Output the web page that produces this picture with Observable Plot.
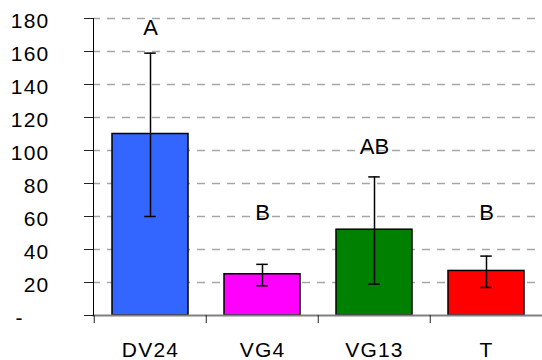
<!DOCTYPE html>
<html>
<head>
<meta charset="utf-8">
<script src="https://cdn.jsdelivr.net/npm/d3@7"></script>
<script src="https://cdn.jsdelivr.net/npm/@observablehq/plot@0.6"></script>
<style>
  html, body { margin: 0; padding: 0; background: #fff; overflow: hidden; }
  #chart svg { font-family: "Liberation Sans", Arial, sans-serif; }
  #chart g[aria-label="y-axis tick label"] text,
  #chart g[aria-label="x-axis tick label"] text { letter-spacing: 1.2px; }
</style>
</head>
<body>
<div id="chart"></div>
<script>
const categories = ["DV24", "VG4", "VG13", "T"];
const means = [110, 25, 52, 27];
const errLow = [60, 18, 19, 17];
const errHigh = [159, 31, 84, 36];
const letters = ["A", "B", "AB", "B"];
const letterY = [174, 62, 102, 62];
const yTicks = [0, 20, 40, 60, 80, 100, 120, 140, 160, 180];
const yTickLabels = ["-\u2007\u2007", "20", "40", "60", "80", "100", "120", "140", "160", "180"];
const barColors = ["#3366FF", "#FF00FF", "#008000", "#FF0000"];

const data = categories.map((c, i) => ({
  cat: c, mean: means[i], lo: errLow[i], hi: errHigh[i], letter: letters[i], ly: letterY[i]
}));

const W = 542, ML = 93, MR = -1;
const step = (W - ML - MR) / categories.length;
const pad = 0.32;
const bw = step * (1 - pad);
const capInset = (bw - 12) / 2;

const chart = Plot.plot({
  width: W,
  height: 360,
  marginLeft: ML,
  marginRight: MR,
  marginTop: 18,
  marginBottom: 45,
  style: { fontSize: "21px", background: "#fff" },
  x: { domain: categories, paddingInner: pad, paddingOuter: pad / 2, label: null },
  y: { domain: [0, 180], label: null },
  color: { domain: categories, range: barColors },
  marks: [
    Plot.gridY(yTicks.filter(d => d > 0), {
      stroke: "#a6a6a6", strokeOpacity: 1, strokeWidth: 1.3,
      strokeDasharray: "8,7", strokeDashoffset: 1
    }),
    Plot.barY(data, { x: "cat", y: "mean", fill: "cat", stroke: "#000", strokeWidth: 1.5 }),
    Plot.ruleX(data, { x: "cat", y1: "lo", y2: "hi", stroke: "#000", strokeWidth: 1.5 }),
    Plot.tickY(data, { x: "cat", y: "lo", stroke: "#000", strokeWidth: 1.5, insetLeft: capInset, insetRight: capInset }),
    Plot.tickY(data, { x: "cat", y: "hi", stroke: "#000", strokeWidth: 1.5, insetLeft: capInset, insetRight: capInset }),
    Plot.text(data, { x: "cat", y: "ly", text: "letter", fontSize: 22, fill: "#000", lineAnchor: "middle" }),
    Plot.frame({ anchor: "bottom", stroke: "#808080", strokeWidth: 2 }),
    Plot.frame({ anchor: "left", stroke: "#000", strokeWidth: 1 }),
    Plot.axisY({ ticks: yTicks, tickSize: 9, tickFormat: () => "", stroke: "#222" }),
    Plot.axisY({
      ticks: yTicks, tickSize: 0, tickPadding: 44, dy: 3,
      tickFormat: d => yTickLabels[yTicks.indexOf(d)], fill: "#000"
    }),
    Plot.axisX({ tickSize: 8, dx: -step / 2, tickFormat: () => "", stroke: "#222" }),
    Plot.axisX({ tickSize: 0, tickPadding: 27, fill: "#000" })
  ]
});
document.getElementById("chart").appendChild(chart);
</script>
</body>
</html>
